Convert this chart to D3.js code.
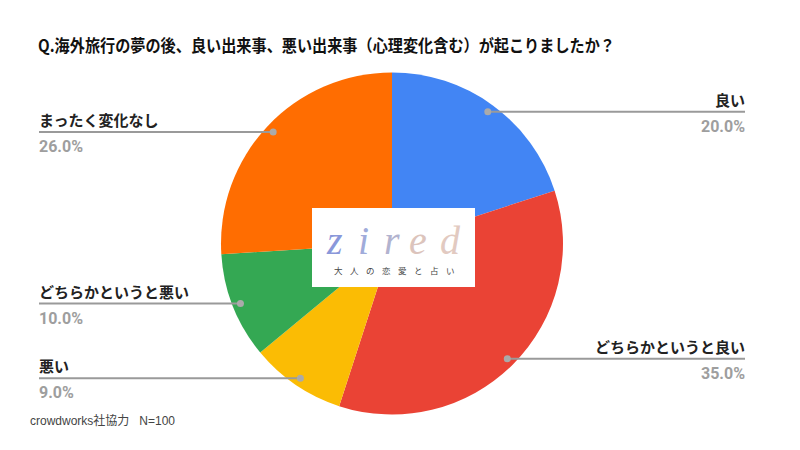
<!DOCTYPE html>
<html><head><meta charset="utf-8">
<script src="https://cdn.jsdelivr.net/npm/d3@7"></script>
<style>
html,body{margin:0;padding:0;background:#fff;}
svg{display:block;}
</style></head>
<body>
<script>
const categories = ["良い","どちらかというと良い","悪い","どちらかというと悪い","まったく変化なし"];
const values = [20.0, 35.0, 9.0, 10.0, 26.0];
const titleText = "Q.海外旅行の夢の後、良い出来事、悪い出来事（心理変化含む）が起こりましたか？";
const footerText = "crowdworks社協力   N=100";

const palette = ["#4285F4","#EA4335","#FBBC04","#34A853","#FF6D01"];
const W = 800, H = 450;
const cx = 392, cy = 243.5, R = 171, dotR = 163;
const leftX = 39, rightX = 745;
const JP = "'Noto Sans CJK JP','Noto Sans',sans-serif";

const svg = d3.select("body").append("svg").attr("width", W).attr("height", H);
svg.append("rect").attr("width", W).attr("height", H).attr("fill", "#fff");

svg.append("text").attr("x", 38).attr("y", 52)
  .style("font-family", JP)
  .attr("font-size", 16.5).attr("font-weight", "bold").attr("fill", "#111")
  .attr("textLength", 577).attr("lengthAdjust", "spacingAndGlyphs")
  .text(titleText);

const data = categories.map((c, i) => ({cat: c, value: values[i], color: palette[i]}));
const pie = d3.pie().value(d => d.value).sort(null);
const arcs = pie(data);
const arc = d3.arc().innerRadius(0).outerRadius(R);
const g = svg.append("g").attr("transform", `translate(${cx},${cy})`);
g.selectAll("path").data(arcs).enter().append("path")
  .attr("d", arc).attr("fill", d => d.data.color);

// logo
const logo = svg.append("g");
logo.append("rect").attr("x", 312).attr("y", 208).attr("width", 163).attr("height", 79).attr("fill", "#fff");
const letters = [["z", 327, "#8a98da"], ["i", 358, "#a0abda"], ["r", 384, "#b2b3cf"], ["e", 409, "#dcc4bc"], ["d", 440, "#e2cac1"]];
letters.forEach(([t, x, c]) => {
  logo.append("text").attr("x", x).attr("y", 254).attr("font-size", 40)
    .style("font-family", "'Liberation Serif', serif").style("font-style", "italic")
    .attr("font-weight", "normal").attr("fill", c).text(t);
});
logo.append("text").attr("x", 334).attr("y", 274).style("font-family", JP)
  .attr("font-size", 8.5).attr("letter-spacing", 7.5).attr("fill", "#444").text("大人の恋愛と占い");

// labels
const lab = svg.append("g");
arcs.forEach(a => {
  const mid = (a.startAngle + a.endAngle) / 2;
  const dx = cx + dotR * Math.sin(mid), dy = cy - dotR * Math.cos(mid);
  const right = mid < Math.PI;
  const x1 = right ? dx : leftX, x2 = right ? rightX : dx;
  lab.append("line").attr("x1", x1).attr("x2", x2).attr("y1", dy).attr("y2", dy)
    .attr("stroke", "#9a9a9a").attr("stroke-width", 2);
  lab.append("circle").attr("cx", dx).attr("cy", dy).attr("r", 3.5).attr("fill", "#aaa");
  const tx = right ? rightX : leftX, anchor = right ? "end" : "start";
  lab.append("text").attr("x", tx).attr("y", dy - 6).attr("text-anchor", anchor)
    .style("font-family", JP)
    .attr("font-size", 15).attr("font-weight", "bold").attr("fill", "#222").text(a.data.cat);
  lab.append("text").attr("x", tx).attr("y", dy + 20).attr("text-anchor", anchor)
    .style("font-family", "Roboto, sans-serif")
    .attr("font-size", 16).attr("font-weight", "bold").attr("fill", "#9e9e9e")
    .text(a.data.value.toFixed(1) + "%");
});

svg.append("text").attr("x", 30).attr("y", 425).attr("font-size", 12)
  .style("font-family", "'Liberation Sans', 'Noto Sans CJK JP', sans-serif")
  .style("white-space", "pre")
  .attr("fill", "#444").text(footerText);
</script>
</body></html>
